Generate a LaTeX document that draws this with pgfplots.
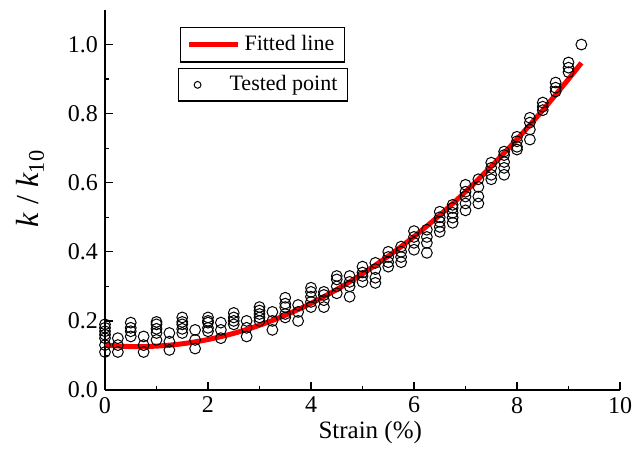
\documentclass[border=0pt]{standalone}
\usepackage{pgfplots}
\pgfplotsset{compat=1.18}
\usepackage{fontspec}
\setmainfont{Liberation Serif}[Ligatures=TeX]

\pgfplotstableread{
x y
0 0.19
0 0.18
0 0.17
0 0.16
0 0.15
0 0.13
0 0.11
0.25 0.15
0.25 0.13
0.25 0.11
0.5 0.195
0.5 0.18
0.5 0.17
0.5 0.155
0.75 0.155
0.75 0.13
0.75 0.11
1.0 0.197
1.0 0.19
1.0 0.177
1.0 0.165
1.0 0.145
1.25 0.165
1.25 0.14
1.25 0.116
1.5 0.21
1.5 0.197
1.5 0.19
1.5 0.177
1.5 0.165
1.75 0.174
1.75 0.145
1.75 0.12
2.0 0.21
2.0 0.20
2.0 0.195
2.0 0.18
2.0 0.17
2.25 0.195
2.25 0.174
2.25 0.15
2.5 0.223
2.5 0.21
2.5 0.20
2.5 0.19
2.75 0.20
2.75 0.18
2.75 0.155
3.0 0.24
3.0 0.23
3.0 0.22
3.0 0.21
3.0 0.20
3.25 0.226
3.25 0.20
3.25 0.174
3.5 0.267
3.5 0.25
3.5 0.24
3.5 0.22
3.5 0.21
3.75 0.246
3.75 0.226
3.75 0.20
4.0 0.296
4.0 0.284
4.0 0.27
4.0 0.255
4.0 0.24
4.25 0.284
4.25 0.275
4.25 0.26
4.25 0.24
4.5 0.33
4.5 0.32
4.5 0.30
4.5 0.28
4.75 0.33
4.75 0.313
4.75 0.30
4.75 0.27
5.0 0.357
5.0 0.34
5.0 0.33
5.0 0.313
5.25 0.368
5.25 0.35
5.25 0.325
5.25 0.31
5.5 0.40
5.5 0.385
5.5 0.37
5.5 0.357
5.75 0.415
5.75 0.40
5.75 0.385
5.75 0.37
6.0 0.46
6.0 0.443
6.0 0.426
6.0 0.406
6.25 0.464
6.25 0.443
6.25 0.426
6.25 0.397
6.5 0.516
6.5 0.50
6.5 0.487
6.5 0.472
6.5 0.458
6.75 0.536
6.75 0.527
6.75 0.513
6.75 0.499
6.75 0.484
7.0 0.594
7.0 0.574
7.0 0.56
7.0 0.54
7.0 0.52
7.25 0.61
7.25 0.588
7.25 0.56
7.25 0.54
7.5 0.658
7.5 0.643
7.5 0.623
7.5 0.61
7.75 0.69
7.75 0.68
7.75 0.66
7.75 0.643
7.75 0.623
8.0 0.733
8.0 0.72
8.0 0.704
8.0 0.696
8.25 0.788
8.25 0.774
8.25 0.754
8.25 0.725
8.5 0.832
8.5 0.82
8.5 0.81
8.75 0.89
8.75 0.875
8.75 0.864
9.0 0.948
9.0 0.933
9.0 0.92
9.25 1.0
}\tested

\pgfplotstableread{
x y
0 0.130
0.5 0.1257
1 0.1270
1.5 0.1338
2 0.1461
2.5 0.1640
3 0.1874
3.5 0.2163
4 0.2508
4.5 0.2908
5 0.3364
5.5 0.3874
6 0.4440
6.5 0.5062
7 0.5739
7.5 0.6471
8 0.7258
8.5 0.8101
9 0.9000
9.25 0.9469
}\fitted

\begin{document}
\begin{tikzpicture}
\begin{axis}[
    name=ax,
    scale only axis,
    width=257.5pt, height=190pt,
    xmin=0, xmax=10, ymin=0, ymax=1.1,
    axis x line=bottom, axis y line=left,
    axis line style={-, line width=0.8pt},
    tick align=inside,
    major tick length=4pt, minor tick length=2pt,
    tick style={black, line width=0.6pt},
    xtick={0,2,4,6,8,10},
    ytick={0,0.2,0.4,0.6,0.8,1.0},
    minor x tick num=1, minor y tick num=1,
    yticklabel style={/pgf/number format/.cd, fixed, fixed zerofill, precision=1},
    xticklabel style={inner xsep=0pt},
    /pgf/number format/assume math mode=true,
    tick label style={font=\fontsize{12}{14}\selectfont},
    xlabel={Strain (\%)},
    xlabel style={font=\fontsize{12.5}{15}\selectfont, at={(axis description cs:0.515,0)}, anchor=center, yshift=-21pt},
    ylabel={\textit{k} / \textit{k}\textsubscript{10}},
    ylabel style={font=\fontsize{16}{19}\selectfont, at={(axis description cs:-0.145,0.53)}, anchor=center},
    legend style={at={(0.1456,0.955)}, anchor=north west, draw=black, line width=0.6pt,
        font=\fontsize{11}{13}\selectfont, inner xsep=3pt, inner ysep=2pt, row sep=0pt},
    legend image code/.code={\draw[#1] (0cm,0cm) -- (0.86cm,0cm);},
]
\addplot[only marks, mark=o, mark size=2.7pt, mark options={black, line width=0.5pt}, forget plot] table[x=x, y=y] {\tested};
\addplot[red, line width=2.5pt, smooth] table[x=x, y=y] {\fitted};
\addlegendentry{Fitted line}
\end{axis}
\begin{axis}[
    scale only axis,
    width=257.5pt, height=190pt,
    xmin=0, xmax=10, ymin=0, ymax=1.1,
    hide axis,
    legend style={at={(0.1417,0.847)}, anchor=north west, draw=black, line width=0.6pt,
        font=\fontsize{11}{13}\selectfont, inner xsep=3pt, inner ysep=1.5pt},
    legend image code/.code={\path[mark repeat=2, mark phase=2, #1, draw=none] plot coordinates {(0pt,0pt) (6.5pt,0pt) (20.5pt,0pt)};},
]
\addlegendimage{mark=o, mark size=1.7pt, mark options={draw=black, solid, line width=0.5pt}}
\addlegendentry{Tested point}
\end{axis}
\path (ax.south west) ++(-52.5pt,-30pt) coordinate (bl);
\path (ax.north east) ++(6pt,5pt) coordinate (tr);
\path (bl) rectangle (tr);
\end{tikzpicture}
\end{document}
